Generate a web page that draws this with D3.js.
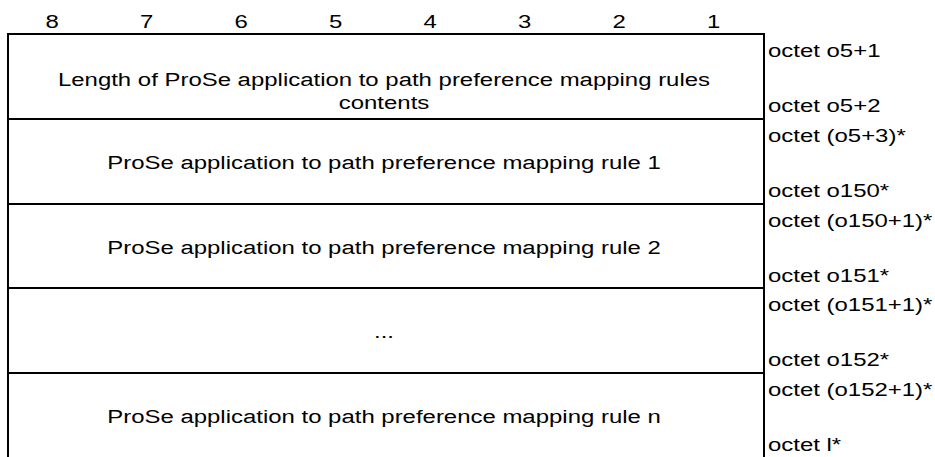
<!DOCTYPE html>
<html><head><meta charset="utf-8">
<script src="https://cdn.jsdelivr.net/npm/d3@7"></script>
<style>body{margin:0;background:#fff}</style>
</head><body>
<script>
(function(){
const bits = ["8","7","6","5","4","3","2","1"];
const rowTexts = [
  ["Length of ProSe application to path preference mapping rules","contents"],
  ["ProSe application to path preference mapping rule 1"],
  ["ProSe application to path preference mapping rule 2"],
  ["..."],
  ["ProSe application to path preference mapping rule n"]
];
const octetTop = ["octet o5+1","octet (o5+3)*","octet (o150+1)*","octet (o151+1)*","octet (o152+1)*"];
const octetBottom = ["octet o5+2","octet o150*","octet o151*","octet o152*","octet l*"];

const W = 935, H = 457;
const mLeft = 8, mRight = 764, mTop = 34, rowH = 84.8;
const font = "Liberation Sans, Arial, sans-serif";
const fs = 19;
const sx = 1.26;

const svg = d3.select("body").append("svg").attr("width", W).attr("height", H);

function txt(x, y, t, anchor) {
  svg.append("text")
    .attr("transform", `translate(${x},${y}) scale(${sx},1)`)
    .attr("text-anchor", anchor || "start")
    .attr("font-family", font).attr("font-size", fs).attr("fill", "#000")
    .text(t);
}

const x = d3.scaleBand().domain(bits).range([mLeft, mRight]);
bits.forEach(d => txt(x(d) + x.bandwidth()/2 - 3, 28, d, "middle"));

const y = d3.scaleBand().domain(d3.range(rowTexts.length)).range([mTop, mTop + rowH*rowTexts.length]);

svg.selectAll("line.h").data(d3.range(rowTexts.length)).enter().append("line")
  .attr("x1", mLeft - 1).attr("x2", mRight + 1).attr("y1", d=>Math.round(y(d))).attr("y2", d=>Math.round(y(d)))
  .attr("stroke","#000").attr("stroke-width",2);
[mLeft, mRight].forEach(xx => svg.append("line").attr("x1",xx).attr("x2",xx).attr("y1",mTop-1).attr("y2",H)
  .attr("stroke","#000").attr("stroke-width",2));

const cx = 384;
rowTexts.forEach((lines, i) => {
  const mid = y(i) + rowH/2;
  if (lines.length === 1) {
    txt(cx, mid + 7.5, lines[0], "middle");
  } else {
    lines.forEach((t, j) => txt(cx, mid + 10 + j*23, t, "middle"));
  }
  txt(mRight + 4, y(i) + 23, octetTop[i]);
  txt(mRight + 4, y(i) + 78, octetBottom[i]);
});
})();
</script>
</body></html>
